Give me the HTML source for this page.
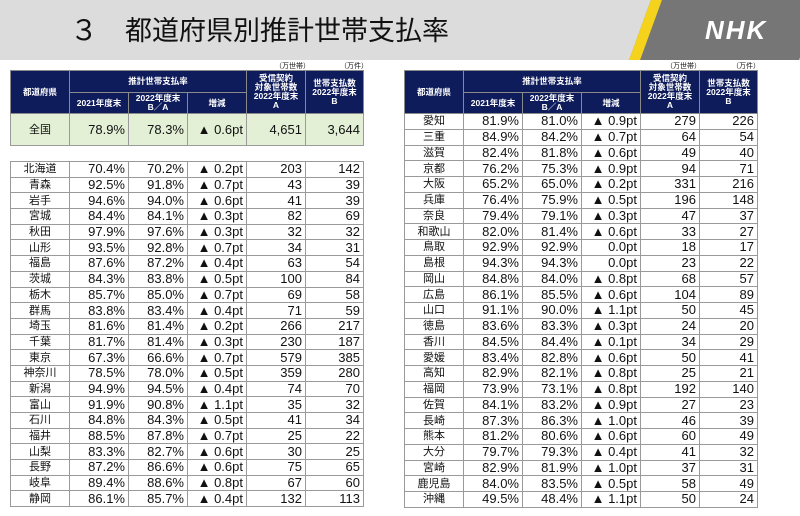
<!DOCTYPE html>
<html><head><meta charset="utf-8"><style>
*{margin:0;padding:0;box-sizing:border-box}
body{width:800px;height:516px;background:#fff;position:relative;overflow:hidden;font-family:"Liberation Sans","Noto Sans CJK JP",sans-serif;color:#111}
.bar{position:absolute;left:0;top:0;width:800px;height:60px;background:#dcdcdc}
.t3{position:absolute;left:70px;top:12px;font-size:28px;line-height:34px;font-family:"Noto Sans CJK JP",sans-serif}
.title{position:absolute;left:125px;top:12px;font-size:27px;line-height:34px;font-family:"Noto Sans CJK JP",sans-serif;color:#111;white-space:nowrap}
.logo{position:absolute;left:640px;top:0;width:170px;height:60px;background:#767676;transform:skewX(-20deg);border-left:11px solid #f5d31c}
.nhk{position:absolute;left:705px;top:15px;color:#fff;font-weight:bold;font-style:italic;font-size:26px;letter-spacing:2px}
table{position:absolute;border-collapse:collapse;table-layout:fixed}
td{border:1.5px solid #9a9a9a;font-size:13px;line-height:12px;text-align:right;padding:0 3px 0 0;white-space:nowrap;overflow:hidden}
td:first-child{text-align:center;padding:0;font-size:11px}
.h td{background:#0f1c5c;color:#fff;font-size:8.5px;text-align:center;padding:0;line-height:9px;border-color:#8a8a8a;font-weight:bold}
.unit{position:absolute;font-size:7px;top:61px}
.tot td{background:#e3f0d6;font-size:13px}
.l tr{height:15.7px}
.r tr.x{height:15.75px}
</style></head><body>
<div class="bar"></div>
<div class="t3">３</div>
<div class="title">都道府県別推計世帯支払率</div>
<div class="logo"></div>
<div class="nhk">NHK</div>
<div class="unit" style="left:275px">（万世帯）</div><div class="unit" style="left:340px">（万件）</div>
<div class="unit" style="left:666px">（万世帯）</div><div class="unit" style="left:732px">（万件）</div>

<table style="left:10px;top:70px;width:353px">
<colgroup><col style="width:59px"><col style="width:59px"><col style="width:59px"><col style="width:59px"><col style="width:59px"><col style="width:58px"></colgroup>
<tr class="h" style="height:22px"><td rowspan="2">都道府県</td><td colspan="3">推計世帯支払率</td><td rowspan="2">受信契約<br>対象世帯数<br>2022年度末<br>A</td><td rowspan="2">世帯支払数<br>2022年度末<br>B</td></tr>
<tr class="h" style="height:21px"><td>2021年度末</td><td>2022年度末<br>B／A</td><td>増減</td></tr>
<tr class="tot" style="height:32px"><td style="font-size:11px">全国</td><td>78.9%</td><td>78.3%</td><td>▲ 0.6pt</td><td>4,651</td><td>3,644</td></tr>
</table>

<table class="l" style="left:10px;top:161px;width:353px">
<colgroup><col style="width:59px"><col style="width:59px"><col style="width:59px"><col style="width:59px"><col style="width:59px"><col style="width:58px"></colgroup>
<tr><td>北海道</td><td>70.4%</td><td>70.2%</td><td>▲ 0.2pt</td><td>203</td><td>142</td></tr>
<tr><td>青森</td><td>92.5%</td><td>91.8%</td><td>▲ 0.7pt</td><td>43</td><td>39</td></tr>
<tr><td>岩手</td><td>94.6%</td><td>94.0%</td><td>▲ 0.6pt</td><td>41</td><td>39</td></tr>
<tr><td>宮城</td><td>84.4%</td><td>84.1%</td><td>▲ 0.3pt</td><td>82</td><td>69</td></tr>
<tr><td>秋田</td><td>97.9%</td><td>97.6%</td><td>▲ 0.3pt</td><td>32</td><td>32</td></tr>
<tr><td>山形</td><td>93.5%</td><td>92.8%</td><td>▲ 0.7pt</td><td>34</td><td>31</td></tr>
<tr><td>福島</td><td>87.6%</td><td>87.2%</td><td>▲ 0.4pt</td><td>63</td><td>54</td></tr>
<tr><td>茨城</td><td>84.3%</td><td>83.8%</td><td>▲ 0.5pt</td><td>100</td><td>84</td></tr>
<tr><td>栃木</td><td>85.7%</td><td>85.0%</td><td>▲ 0.7pt</td><td>69</td><td>58</td></tr>
<tr><td>群馬</td><td>83.8%</td><td>83.4%</td><td>▲ 0.4pt</td><td>71</td><td>59</td></tr>
<tr><td>埼玉</td><td>81.6%</td><td>81.4%</td><td>▲ 0.2pt</td><td>266</td><td>217</td></tr>
<tr><td>千葉</td><td>81.7%</td><td>81.4%</td><td>▲ 0.3pt</td><td>230</td><td>187</td></tr>
<tr><td>東京</td><td>67.3%</td><td>66.6%</td><td>▲ 0.7pt</td><td>579</td><td>385</td></tr>
<tr><td>神奈川</td><td>78.5%</td><td>78.0%</td><td>▲ 0.5pt</td><td>359</td><td>280</td></tr>
<tr><td>新潟</td><td>94.9%</td><td>94.5%</td><td>▲ 0.4pt</td><td>74</td><td>70</td></tr>
<tr><td>富山</td><td>91.9%</td><td>90.8%</td><td>▲ 1.1pt</td><td>35</td><td>32</td></tr>
<tr><td>石川</td><td>84.8%</td><td>84.3%</td><td>▲ 0.5pt</td><td>41</td><td>34</td></tr>
<tr><td>福井</td><td>88.5%</td><td>87.8%</td><td>▲ 0.7pt</td><td>25</td><td>22</td></tr>
<tr><td>山梨</td><td>83.3%</td><td>82.7%</td><td>▲ 0.6pt</td><td>30</td><td>25</td></tr>
<tr><td>長野</td><td>87.2%</td><td>86.6%</td><td>▲ 0.6pt</td><td>75</td><td>65</td></tr>
<tr><td>岐阜</td><td>89.4%</td><td>88.6%</td><td>▲ 0.8pt</td><td>67</td><td>60</td></tr>
<tr><td>静岡</td><td>86.1%</td><td>85.7%</td><td>▲ 0.4pt</td><td>132</td><td>113</td></tr>
</table>

<table class="r" style="left:404px;top:70px;width:353px">
<colgroup><col style="width:59px"><col style="width:59px"><col style="width:59px"><col style="width:59px"><col style="width:59px"><col style="width:58px"></colgroup>
<tr class="h" style="height:22px"><td rowspan="2">都道府県</td><td colspan="3">推計世帯支払率</td><td rowspan="2">受信契約<br>対象世帯数<br>2022年度末<br>A</td><td rowspan="2">世帯支払数<br>2022年度末<br>B</td></tr>
<tr class="h" style="height:21px"><td>2021年度末</td><td>2022年度末<br>B／A</td><td>増減</td></tr>
<tr class="x"><td>愛知</td><td>81.9%</td><td>81.0%</td><td>▲ 0.9pt</td><td>279</td><td>226</td></tr>
<tr class="x"><td>三重</td><td>84.9%</td><td>84.2%</td><td>▲ 0.7pt</td><td>64</td><td>54</td></tr>
<tr class="x"><td>滋賀</td><td>82.4%</td><td>81.8%</td><td>▲ 0.6pt</td><td>49</td><td>40</td></tr>
<tr class="x"><td>京都</td><td>76.2%</td><td>75.3%</td><td>▲ 0.9pt</td><td>94</td><td>71</td></tr>
<tr class="x"><td>大阪</td><td>65.2%</td><td>65.0%</td><td>▲ 0.2pt</td><td>331</td><td>216</td></tr>
<tr class="x"><td>兵庫</td><td>76.4%</td><td>75.9%</td><td>▲ 0.5pt</td><td>196</td><td>148</td></tr>
<tr class="x"><td>奈良</td><td>79.4%</td><td>79.1%</td><td>▲ 0.3pt</td><td>47</td><td>37</td></tr>
<tr class="x"><td>和歌山</td><td>82.0%</td><td>81.4%</td><td>▲ 0.6pt</td><td>33</td><td>27</td></tr>
<tr class="x"><td>鳥取</td><td>92.9%</td><td>92.9%</td><td>0.0pt</td><td>18</td><td>17</td></tr>
<tr class="x"><td>島根</td><td>94.3%</td><td>94.3%</td><td>0.0pt</td><td>23</td><td>22</td></tr>
<tr class="x"><td>岡山</td><td>84.8%</td><td>84.0%</td><td>▲ 0.8pt</td><td>68</td><td>57</td></tr>
<tr class="x"><td>広島</td><td>86.1%</td><td>85.5%</td><td>▲ 0.6pt</td><td>104</td><td>89</td></tr>
<tr class="x"><td>山口</td><td>91.1%</td><td>90.0%</td><td>▲ 1.1pt</td><td>50</td><td>45</td></tr>
<tr class="x"><td>徳島</td><td>83.6%</td><td>83.3%</td><td>▲ 0.3pt</td><td>24</td><td>20</td></tr>
<tr class="x"><td>香川</td><td>84.5%</td><td>84.4%</td><td>▲ 0.1pt</td><td>34</td><td>29</td></tr>
<tr class="x"><td>愛媛</td><td>83.4%</td><td>82.8%</td><td>▲ 0.6pt</td><td>50</td><td>41</td></tr>
<tr class="x"><td>高知</td><td>82.9%</td><td>82.1%</td><td>▲ 0.8pt</td><td>25</td><td>21</td></tr>
<tr class="x"><td>福岡</td><td>73.9%</td><td>73.1%</td><td>▲ 0.8pt</td><td>192</td><td>140</td></tr>
<tr class="x"><td>佐賀</td><td>84.1%</td><td>83.2%</td><td>▲ 0.9pt</td><td>27</td><td>23</td></tr>
<tr class="x"><td>長崎</td><td>87.3%</td><td>86.3%</td><td>▲ 1.0pt</td><td>46</td><td>39</td></tr>
<tr class="x"><td>熊本</td><td>81.2%</td><td>80.6%</td><td>▲ 0.6pt</td><td>60</td><td>49</td></tr>
<tr class="x"><td>大分</td><td>79.7%</td><td>79.3%</td><td>▲ 0.4pt</td><td>41</td><td>32</td></tr>
<tr class="x"><td>宮崎</td><td>82.9%</td><td>81.9%</td><td>▲ 1.0pt</td><td>37</td><td>31</td></tr>
<tr class="x"><td>鹿児島</td><td>84.0%</td><td>83.5%</td><td>▲ 0.5pt</td><td>58</td><td>49</td></tr>
<tr class="x"><td>沖縄</td><td>49.5%</td><td>48.4%</td><td>▲ 1.1pt</td><td>50</td><td>24</td></tr>
</table>
</body></html>
